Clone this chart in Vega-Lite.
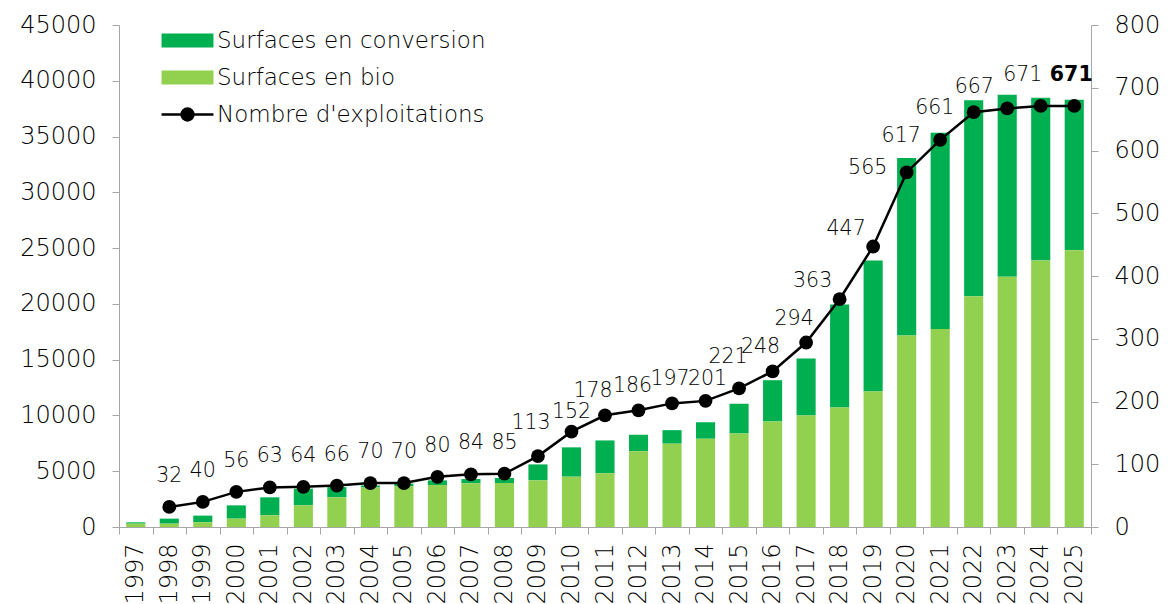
{
  "$schema": "https://vega.github.io/schema/vega-lite/v6.json",
  "width": 972,
  "height": 502,
  "autosize": "none",
  "padding": {"left": 119, "top": 25, "right": 78, "bottom": 77},
  "background": "white",
  "config": {
    "font": "DejaVu Sans",
    "view": {"stroke": null},
    "axis": {
      "domainColor": "#A6A6A6",
      "tickColor": "#A6A6A6",
      "tickSize": 7,
      "labelFontSize": 24,
      "labelFontWeight": 300,
      "labelColor": "#000000",
      "grid": false,
      "title": null
    },
    "text": {"fontSize": 20.5, "fontWeight": 300, "color": "#000000", "baseline": "middle"}
  },
  "data": {
    "values": [
      {"annee": 1997, "Surfaces en bio": 300, "Surfaces en conversion": 120, "nb": null},
      {"annee": 1998, "Surfaces en bio": 300, "Surfaces en conversion": 450, "nb": 32},
      {"annee": 1999, "Surfaces en bio": 420, "Surfaces en conversion": 600, "nb": 40},
      {"annee": 2000, "Surfaces en bio": 750, "Surfaces en conversion": 1190, "nb": 56},
      {"annee": 2001, "Surfaces en bio": 1050, "Surfaces en conversion": 1610, "nb": 63},
      {"annee": 2002, "Surfaces en bio": 1940, "Surfaces en conversion": 1500, "nb": 64},
      {"annee": 2003, "Surfaces en bio": 2660, "Surfaces en conversion": 920, "nb": 66},
      {"annee": 2004, "Surfaces en bio": 3550, "Surfaces en conversion": 180, "nb": 70},
      {"annee": 2005, "Surfaces en bio": 3640, "Surfaces en conversion": 250, "nb": 70},
      {"annee": 2006, "Surfaces en bio": 3760, "Surfaces en conversion": 420, "nb": 80},
      {"annee": 2007, "Surfaces en bio": 3910, "Surfaces en conversion": 390, "nb": 84},
      {"annee": 2008, "Surfaces en bio": 3940, "Surfaces en conversion": 450, "nb": 85},
      {"annee": 2009, "Surfaces en bio": 4180, "Surfaces en conversion": 1430, "nb": 113},
      {"annee": 2010, "Surfaces en bio": 4510, "Surfaces en conversion": 2630, "nb": 152},
      {"annee": 2011, "Surfaces en bio": 4810, "Surfaces en conversion": 2950, "nb": 178},
      {"annee": 2012, "Surfaces en bio": 6780, "Surfaces en conversion": 1490, "nb": 186},
      {"annee": 2013, "Surfaces en bio": 7470, "Surfaces en conversion": 1210, "nb": 197},
      {"annee": 2014, "Surfaces en bio": 7910, "Surfaces en conversion": 1490, "nb": 201},
      {"annee": 2015, "Surfaces en bio": 8390, "Surfaces en conversion": 2660, "nb": 221},
      {"annee": 2016, "Surfaces en bio": 9460, "Surfaces en conversion": 3700, "nb": 248},
      {"annee": 2017, "Surfaces en bio": 10000, "Surfaces en conversion": 5100, "nb": 294},
      {"annee": 2018, "Surfaces en bio": 10720, "Surfaces en conversion": 9220, "nb": 363},
      {"annee": 2019, "Surfaces en bio": 12150, "Surfaces en conversion": 11730, "nb": 447},
      {"annee": 2020, "Surfaces en bio": 17160, "Surfaces en conversion": 15910, "nb": 565},
      {"annee": 2021, "Surfaces en bio": 17760, "Surfaces en conversion": 17580, "nb": 617},
      {"annee": 2022, "Surfaces en bio": 20680, "Surfaces en conversion": 17580, "nb": 661},
      {"annee": 2023, "Surfaces en bio": 22440, "Surfaces en conversion": 16300, "nb": 667},
      {"annee": 2024, "Surfaces en bio": 23900, "Surfaces en conversion": 14570, "nb": 671},
      {"annee": 2025, "Surfaces en bio": 24800, "Surfaces en conversion": 13490, "nb": 671}
    ]
  },
  "layer": [
    {
      "transform": [{"fold": ["Surfaces en conversion", "Surfaces en bio"], "as": ["serie", "surface"]}],
      "mark": {"type": "bar", "width": {"band": 0.57}},
      "encoding": {
        "x": {
          "field": "annee", "type": "ordinal",
          "scale": {"paddingInner": 0, "paddingOuter": 0},
          "axis": {"labelAngle": -90, "labelAlign": "right", "labelBaseline": "middle", "labelPadding": 9, "tickBand": "extent"}
        },
        "y": {
          "field": "surface", "type": "quantitative", "stack": "zero",
          "scale": {"domain": [0, 45000], "nice": false},
          "axis": {"values": [0, 5000, 10000, 15000, 20000, 25000, 30000, 35000, 40000, 45000], "format": "d", "labelPadding": 16}
        },
        "color": {
          "field": "serie", "type": "nominal",
          "scale": {"domain": ["Surfaces en conversion", "Surfaces en bio", "Nombre d'exploitations"], "range": ["#00B050", "#92D050", "#000000"]},
          "legend": {
            "title": null, "orient": "none", "direction": "vertical", "legendX": 57, "legendY": 4, "padding": 0,
            "labelFontSize": 23, "labelFontWeight": 300, "labelColor": "#000000", "labelOffset": 18, "labelLimit": 400,
            "rowPadding": 13, "symbolSize": 196,
            "encode": {
              "symbols": {
                "update": {
                  "shape": {"signal": "datum.index === 2 ? 'M-3.71,0L-0.85,0A0.85,0.85 0 1,1 0.85,0A0.85,0.85 0 1,1 -0.85,0M0.85,0L3.71,0' : 'M-3.71,-1L3.71,-1L3.71,1L-3.71,1Z'"},
                  "size": {"value": 196},
                  "fill": {"signal": "datum.index === 0 ? '#00B050' : datum.index === 1 ? '#92D050' : '#000000'"},
                  "stroke": {"signal": "datum.index === 2 ? '#000000' : 'transparent'"},
                  "strokeWidth": {"signal": "datum.index === 2 ? 2.5 : 0"},
                  "opacity": {"value": 1},
                  "fillOpacity": {"value": 1}
                }
              }
            }
          }
        },
        "order": {"field": "serie", "sort": "ascending"}
      }
    },
    {
      "transform": [{"filter": "datum.nb != null"}],
      "encoding": {
        "x": {"field": "annee", "type": "ordinal"},
        "y": {
          "field": "nb", "type": "quantitative",
          "scale": {"domain": [0, 800], "nice": false},
          "axis": {"orient": "right", "values": [0, 100, 200, 300, 400, 500, 600, 700, 800], "labelPadding": 16}
        }
      },
      "layer": [
        {"mark": {"type": "line", "strokeWidth": 2.5}, "encoding": {"color": {"datum": "Nombre d'exploitations"}}},
        {"mark": {"type": "point", "filled": true, "size": 190, "opacity": 1}, "encoding": {"color": {"datum": "Nombre d'exploitations"}}},
        {
          "transform": [{"filter": "datum.annee <= 2008"}],
          "mark": {"type": "text", "dx": 0, "dy": -31},
          "encoding": {"text": {"field": "nb"}}
        },
        {
          "transform": [{"filter": "datum.annee == 2009"}],
          "mark": {"type": "text", "dx": -7, "dy": -33},
          "encoding": {"text": {"field": "nb"}}
        },
        {
          "transform": [{"filter": "datum.annee == 2015"}],
          "mark": {"type": "text", "dx": -11, "dy": -31},
          "encoding": {"text": {"field": "nb"}}
        },
        {
          "transform": [{"filter": "datum.annee == 2010"}],
          "mark": {"type": "text", "dx": 0, "dy": -20},
          "encoding": {"text": {"field": "nb"}}
        },
        {
          "transform": [{"filter": "datum.annee == 2014"}],
          "mark": {"type": "text", "dx": 2, "dy": -22},
          "encoding": {"text": {"field": "nb"}}
        },
        {
          "transform": [{"filter": "datum.annee == 2011 || datum.annee == 2016 || datum.annee == 2017"}],
          "mark": {"type": "text", "dx": -12, "dy": -24},
          "encoding": {"text": {"field": "nb"}}
        },
        {
          "transform": [{"filter": "datum.annee == 2012"}],
          "mark": {"type": "text", "dx": -6, "dy": -24},
          "encoding": {"text": {"field": "nb"}}
        },
        {
          "transform": [{"filter": "datum.annee == 2013"}],
          "mark": {"type": "text", "dx": -2, "dy": -24},
          "encoding": {"text": {"field": "nb"}}
        },
        {
          "transform": [{"filter": "datum.annee == 2018 || datum.annee == 2019"}],
          "mark": {"type": "text", "dx": -27, "dy": -18},
          "encoding": {"text": {"field": "nb"}}
        },
        {
          "transform": [{"filter": "datum.annee >= 2020 && datum.annee <= 2022"}],
          "mark": {"type": "text", "dx": -39, "dy": -4},
          "encoding": {"text": {"field": "nb"}}
        },
        {
          "transform": [{"filter": "datum.annee == 2023"}],
          "mark": {"type": "text", "dx": -33, "dy": -21},
          "encoding": {"text": {"field": "nb"}}
        },
        {
          "transform": [{"filter": "datum.annee == 2024"}],
          "mark": {"type": "text", "dx": -18, "dy": -31},
          "encoding": {"text": {"field": "nb"}}
        },
        {
          "transform": [{"filter": "datum.annee == 2025"}],
          "mark": {"type": "text", "dx": -3, "dy": -31, "fontWeight": "bold"},
          "encoding": {"text": {"field": "nb"}}
        }
      ]
    }
  ],
  "resolve": {"scale": {"y": "independent"}}
}
